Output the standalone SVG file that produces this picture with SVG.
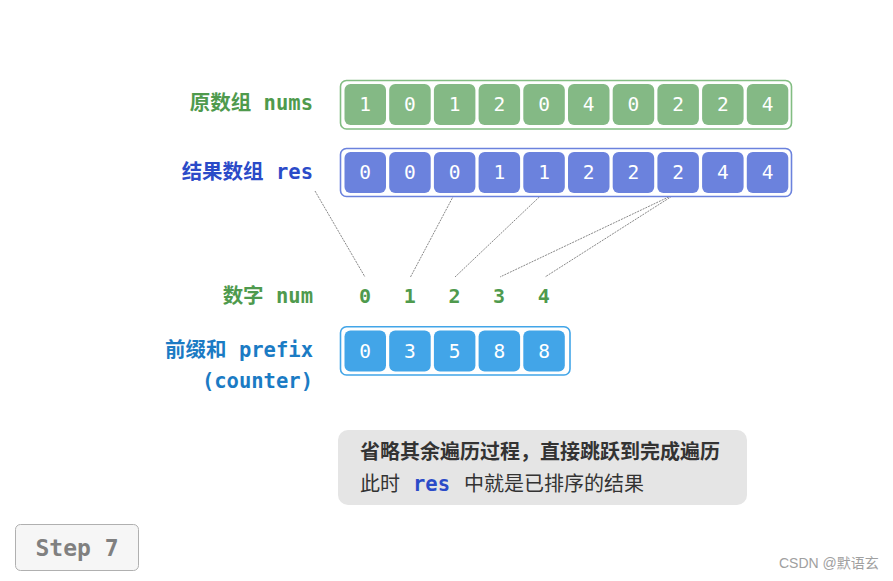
<svg xmlns="http://www.w3.org/2000/svg" width="893" height="581" viewBox="0 0 893 581">
<style>
.lbl{font-family:"DejaVu Sans Mono","Noto Sans CJK SC",monospace;font-weight:bold;font-size:20.5px;text-anchor:end;dominant-baseline:central}
.g{fill:#4f9a4d}.b{fill:#2b4bc8}.c{fill:#1b7bc4}
.outerG{fill:#fff;stroke:#82bd82;stroke-width:1.6}
.outerB{fill:#fff;stroke:#6b82dd;stroke-width:1.6}
.outerC{fill:#fff;stroke:#42a5e8;stroke-width:1.6}
.cg{fill:#84b985}.cb{fill:#6b82dd}.cc{fill:#42a5e8}
.ct{font-family:"DejaVu Sans Mono",monospace;font-size:19.5px;fill:#fff;text-anchor:middle;dominant-baseline:central}
.num{font-family:"DejaVu Sans Mono",monospace;font-size:20px;font-weight:bold;fill:#4f9a4d;text-anchor:middle;dominant-baseline:central}
.conn line{stroke:#888;stroke-width:1;stroke-dasharray:2 1}
.note{font-family:"Noto Sans CJK SC","Noto Sans",sans-serif;font-size:20px;fill:#333}
</style>

<g id="conns" class="conn">
<line x1="315" y1="191" x2="365" y2="277"/>
<line x1="455" y1="193" x2="410.5" y2="277"/>
<line x1="543.5" y1="193" x2="455" y2="277"/>
<line x1="677" y1="193" x2="500" y2="277"/>
<line x1="677" y1="193" x2="545" y2="277"/>
</g>

<g id="nums">
<text class="lbl g" x="313" y="103">原数组 nums</text>
<rect class="outerG" x="340.5" y="80.5" width="451" height="48.5" rx="6"/>
<g class="cg">
<rect x="344.5" y="84" width="41.5" height="41" rx="6"/>
<rect x="389.2" y="84" width="41.5" height="41" rx="6"/>
<rect x="433.9" y="84" width="41.5" height="41" rx="6"/>
<rect x="478.6" y="84" width="41.5" height="41" rx="6"/>
<rect x="523.3" y="84" width="41.5" height="41" rx="6"/>
<rect x="568" y="84" width="41.5" height="41" rx="6"/>
<rect x="612.7" y="84" width="41.5" height="41" rx="6"/>
<rect x="657.4" y="84" width="41.5" height="41" rx="6"/>
<rect x="702.1" y="84" width="41.5" height="41" rx="6"/>
<rect x="746.8" y="84" width="41.5" height="41" rx="6"/>
</g>
<g class="ct">
<text x="365.2" y="104.5">1</text>
<text x="409.9" y="104.5">0</text>
<text x="454.6" y="104.5">1</text>
<text x="499.3" y="104.5">2</text>
<text x="544" y="104.5">0</text>
<text x="588.7" y="104.5">4</text>
<text x="633.4" y="104.5">0</text>
<text x="678.1" y="104.5">2</text>
<text x="722.8" y="104.5">2</text>
<text x="767.5" y="104.5">4</text>
</g>
</g>

<g id="res">
<text class="lbl b" x="313" y="172">结果数组 res</text>
<rect class="outerB" x="340.5" y="148.5" width="451" height="48" rx="6"/>
<g class="cb">
<rect x="344.5" y="152" width="41.5" height="41" rx="6"/>
<rect x="389.2" y="152" width="41.5" height="41" rx="6"/>
<rect x="433.9" y="152" width="41.5" height="41" rx="6"/>
<rect x="478.6" y="152" width="41.5" height="41" rx="6"/>
<rect x="523.3" y="152" width="41.5" height="41" rx="6"/>
<rect x="568" y="152" width="41.5" height="41" rx="6"/>
<rect x="612.7" y="152" width="41.5" height="41" rx="6"/>
<rect x="657.4" y="152" width="41.5" height="41" rx="6"/>
<rect x="702.1" y="152" width="41.5" height="41" rx="6"/>
<rect x="746.8" y="152" width="41.5" height="41" rx="6"/>
</g>
<g class="ct">
<text x="365.2" y="172.5">0</text>
<text x="409.9" y="172.5">0</text>
<text x="454.6" y="172.5">0</text>
<text x="499.3" y="172.5">1</text>
<text x="544" y="172.5">1</text>
<text x="588.7" y="172.5">2</text>
<text x="633.4" y="172.5">2</text>
<text x="678.1" y="172.5">2</text>
<text x="722.8" y="172.5">4</text>
<text x="767.5" y="172.5">4</text>
</g>
</g>

<g id="num">
<text class="lbl g" x="313" y="296">数字 num</text>
<text class="num" x="365" y="296">0</text>
<text class="num" x="409.7" y="296">1</text>
<text class="num" x="454.4" y="296">2</text>
<text class="num" x="499.1" y="296">3</text>
<text class="num" x="543.8" y="296">4</text>
</g>

<g id="prefix">
<text class="lbl c" x="313" y="350">前缀和 prefix</text>
<text class="lbl c" x="313" y="381">(counter)</text>
<rect class="outerC" x="340.5" y="326.8" width="229.5" height="48.2" rx="6"/>
<g class="cc">
<rect x="344.5" y="330.5" width="41.5" height="41" rx="6"/>
<rect x="389.2" y="330.5" width="41.5" height="41" rx="6"/>
<rect x="433.9" y="330.5" width="41.5" height="41" rx="6"/>
<rect x="478.6" y="330.5" width="41.5" height="41" rx="6"/>
<rect x="523.3" y="330.5" width="41.5" height="41" rx="6"/>
</g>
<g class="ct">
<text x="365.2" y="351">0</text>
<text x="409.9" y="351">3</text>
<text x="454.6" y="351">5</text>
<text x="499.3" y="351">8</text>
<text x="544" y="351">8</text>
</g>
</g>

<g id="note">
<rect x="338" y="430" width="409" height="75" rx="10" fill="#e5e5e5"/>
<text class="note" x="360" y="459" font-weight="bold">省略其余遍历过程，直接跳跃到完成遍历</text>
<text class="note" x="360" y="491">此时 <tspan x="413" font-family="DejaVu Sans Mono,monospace" font-weight="bold" fill="#2b4bc8" font-size="20.5">res</tspan><tspan x="464">中就是已排序的结果</tspan></text>
</g>

<g id="step">
<rect x="15.5" y="524.5" width="123" height="46" rx="5" fill="#f6f6f6" stroke="#b0b0b0" stroke-width="1"/>
<text x="77" y="547.5" font-family="DejaVu Sans Mono,monospace" font-weight="bold" font-size="23" fill="#808080" text-anchor="middle" dominant-baseline="central">Step 7</text>
</g>

<text x="779" y="568" font-family="Liberation Sans,Noto Sans CJK SC,sans-serif" font-size="14" fill="#a0a0a0">CSDN @默语玄</text>
</svg>
